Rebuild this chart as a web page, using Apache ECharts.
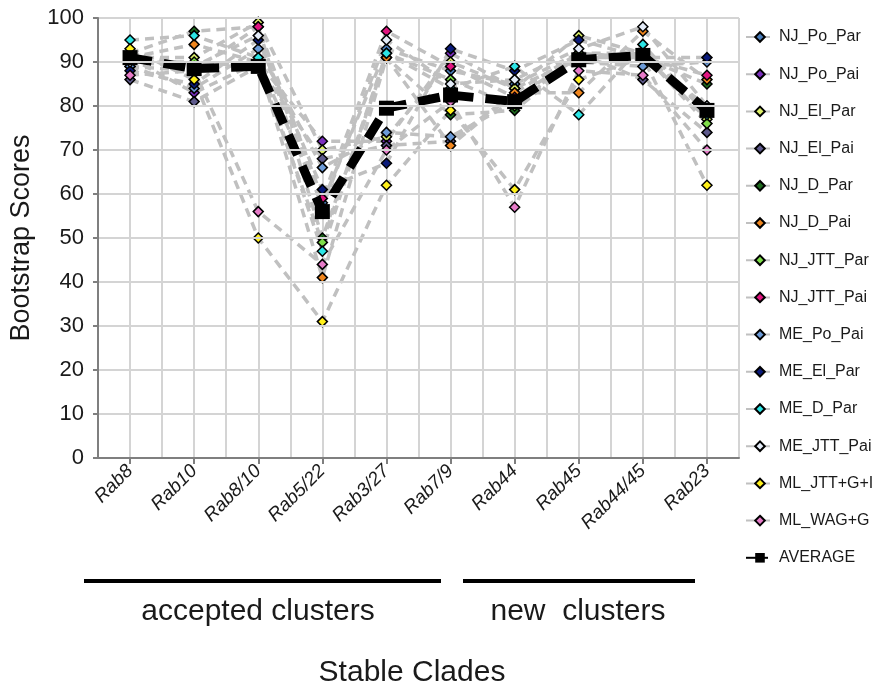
<!DOCTYPE html>
<html><head><meta charset="utf-8">
<script src="https://cdn.jsdelivr.net/npm/echarts@6/dist/echarts.min.js"></script>
<style>html,body{margin:0;padding:0;background:#fff}#c{width:881px;height:687px}</style>
</head><body><div id="c"></div>
<script>
const categories = ['Rab8','Rab10','Rab8/10','Rab5/22','Rab3/27','Rab7/9','Rab44','Rab45','Rab44/45','Rab23'];
const yTicks = [0,10,20,30,40,50,60,70,80,90,100];

const NJ_Po_Par  = [92, 89, 90, 58, 93, 88, 85, 92, 91, 80];
const NJ_Po_Pai  = [91, 83, 90, 72, 72, 92, 84, 91, 92, 79];
const NJ_El_Par  = [91, 91, 99, 70, 73, 90, 84, 96, 92, 77];
const NJ_El_Pai  = [86, 81, 89, 68, 71, 72, 83, 92, 86, 74];
const NJ_D_Par   = [92, 97, 98, 50, 91, 78, 79, 91, 91, 85];
const NJ_D_Pai   = [91, 94, 90, 41, 91, 71, 83, 83, 97, 86];
const NJ_JTT_Par = [90, 90, 89, 49, 92, 86, 80, 92, 92, 76];
const NJ_JTT_Pai = [89, 88, 98, 59, 97, 89, 82, 91, 91, 87];
const ME_Po_Pai  = [89, 84, 93, 66, 74, 73, 81, 90, 89, 90];
const ME_El_Par  = [88, 85, 95, 61, 67, 93, 88, 95, 91, 91];
const ME_D_Par   = [95, 96, 91, 47, 92, 84, 89, 78, 94, 78];
const ME_JTT_Pai = [90, 89, 96, 57, 95, 85, 86, 93, 98, 80];
const ML_JTT_G_I = [93, 86, 50, 31, 62, 79, 61, 86, 91, 62];
const ML_WAG_G   = [87, 88, 56, 44, 70, 81, 57, 88, 87, 70];
const AVERAGE    = [91, 88.5, 89, 56, 79.5, 82.5, 81, 90.5, 91.5, 79];

const seriesNames = ['NJ_Po_Par','NJ_Po_Pai','NJ_El_Par','NJ_El_Pai','NJ_D_Par','NJ_D_Pai','NJ_JTT_Par','NJ_JTT_Pai','ME_Po_Pai','ME_El_Par','ME_D_Par','ME_JTT_Pai','ML_JTT+G+I','ML_WAG+G'];
const seriesData = [NJ_Po_Par,NJ_Po_Pai,NJ_El_Par,NJ_El_Pai,NJ_D_Par,NJ_D_Pai,NJ_JTT_Par,NJ_JTT_Pai,ME_Po_Pai,ME_El_Par,ME_D_Par,ME_JTT_Pai,ML_JTT_G_I,ML_WAG_G];
const seriesColors = ['#4A7EBB','#7B2FBE','#DDF06A','#5E5A8C','#1E6B1E','#F0861E','#7FDE4A','#E0157F','#6C9BD8','#0A1A7A','#2CE5E5','#E4ECF8','#FFF01A','#E67BC8'];

const FONT = 'Liberation Sans, Arial, sans-serif';
const chart = echarts.init(document.getElementById('c'));

const series = seriesNames.map((n,i)=>({
  name:n, type:'line', xAxisIndex:0, yAxisIndex:0, data:seriesData[i],
  symbol:'diamond', symbolSize:10,
  lineStyle:{color:'#C0C0C0', width:3.5, type:[9,6]},
  itemStyle:{color:seriesColors[i], borderColor:'#000', borderWidth:1.5},
  emphasis:{disabled:true}, z:2
}));
series.push({
  name:'AVERAGE', type:'line', xAxisIndex:0, yAxisIndex:0, data:AVERAGE,
  symbol:'rect', symbolSize:[15,15],
  lineStyle:{color:'#000', width:9, type:[22,12]},
  itemStyle:{color:'#000', borderColor:'#000', borderWidth:0},
  emphasis:{disabled:true}, z:3
});

chart.setOption({
  animation:false,
  textStyle:{fontFamily:FONT},
  grid:{left:97, right:142, top:18, bottom:229, containLabel:false},
  legend:{
    orient:'vertical', left:740, top:24, itemGap:21.2, itemWidth:28, itemHeight:12,
    textStyle:{fontSize:16, color:'#1a1a1a', fontFamily:FONT},
    data:seriesNames.concat(['AVERAGE'])
  },
  xAxis:[{
    type:'category', data:categories, boundaryGap:true,
    axisLine:{show:true, lineStyle:{color:'#7f7f7f', width:2}},
    axisTick:{show:true, alignWithLabel:true, length:6, lineStyle:{color:'#7f7f7f', width:2}},
    axisLabel:{rotate:45, fontSize:19, fontStyle:'italic', color:'#1a1a1a', margin:10, fontFamily:FONT},
    splitLine:{show:false}, z:5
  },{
    type:'value', min:0, max:20, interval:1, position:'bottom',
    axisLine:{show:false}, axisTick:{show:false}, axisLabel:{show:false},
    splitLine:{show:true, lineStyle:{color:'#D4D4D4', width:2}}
  }],
  yAxis:{
    type:'value', min:0, max:100, interval:10,
    name:'Bootstrap Scores', nameLocation:'middle', nameGap:63, nameRotate:90,
    nameTextStyle:{fontSize:27, color:'#1a1a1a', fontFamily:FONT},
    axisLine:{show:true, lineStyle:{color:'#7f7f7f', width:2}},
    axisTick:{show:true, length:5, lineStyle:{color:'#7f7f7f', width:2}},
    axisLabel:{fontSize:22, color:'#1a1a1a', margin:14, fontFamily:FONT,
      formatter:v=>yTicks.includes(v)?String(v):''},
    splitLine:{show:true, lineStyle:{color:'#D4D4D4', width:2}}, z:5
  },
  graphic:[
    {type:'line', shape:{x1:84,y1:581,x2:441,y2:581}, style:{stroke:'#000', lineWidth:4}},
    {type:'line', shape:{x1:463,y1:581,x2:695,y2:581}, style:{stroke:'#000', lineWidth:4}},
    {type:'text', x:258, y:612, style:{text:'accepted clusters', font:'30px '+FONT, fill:'#1a1a1a', textAlign:'center', textVerticalAlign:'middle'}},
    {type:'text', x:578, y:612, style:{text:'new  clusters', font:'30px '+FONT, fill:'#1a1a1a', textAlign:'center', textVerticalAlign:'middle'}},
    {type:'text', x:412, y:673, style:{text:'Stable Clades', font:'30px '+FONT, fill:'#1a1a1a', textAlign:'center', textVerticalAlign:'middle'}}
  ],
  series:series
});
</script></body></html>
